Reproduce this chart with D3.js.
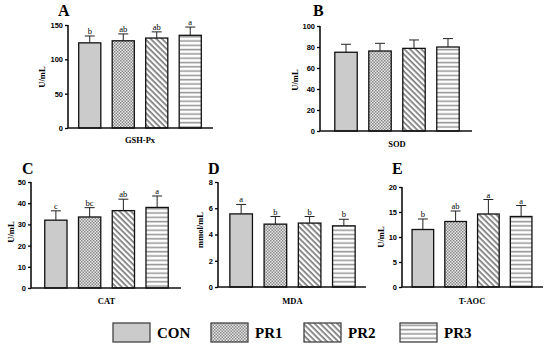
<!DOCTYPE html>
<html>
<head>
<meta charset="utf-8">
<script src="https://cdn.jsdelivr.net/npm/d3@7"></script>
<style>
body { margin: 0; background: #fff; }
svg { display: block; }
.tick text { font-family: "Liberation Sans", Arial, sans-serif; font-weight: bold; font-size: 7.5px; }
</style>
</head>
<body>
<div class="chart"></div>
<script>
var groups = ["CON", "PR1", "PR2", "PR3"];

var gshpx = [124, 127, 131, 135];
var gshpxErr = [10, 10, 9, 12];
var gshpxLetters = ["b", "ab", "ab", "a"];

var sod = [75, 76.2, 78.7, 80];
var sodErr = [7.6, 7.3, 8, 8];

var cat = [32, 33.5, 36.5, 38];
var catErr = [4.4, 4.4, 5.4, 5.4];
var catLetters = ["c", "bc", "ab", "a"];

var mda = [5.57, 4.79, 4.87, 4.66];
var mdaErr = [0.72, 0.58, 0.5, 0.5];
var mdaLetters = ["a", "b", "b", "b"];

var taoc = [11.5, 13.1, 14.6, 14.1];
var taocErr = [2.1, 2.1, 2.9, 2.2];
var taocLetters = ["b", "ab", "a", "a"];

var yTicksA = [0, 50, 100, 150];
var yTicksB = [0, 20, 40, 60, 80, 100];
var yTicksC = [0, 10, 20, 30, 40, 50];
var yTicksD = [0, 2, 4, 6, 8];
var yTicksE = [0, 5, 10, 15, 20];

var serif = '"Liberation Serif", "Times New Roman", serif';

var svg = d3.select(".chart").append("svg")
	.attr("width", 550)
	.attr("height", 348);

// fill patterns
var defs = svg.append("defs");
var p1 = defs.append("pattern").attr("id", "pr1").attr("patternUnits", "userSpaceOnUse")
	.attr("width", 3).attr("height", 3);
p1.append("rect").attr("width", 3).attr("height", 3).attr("fill", "#e6e6e6");
p1.append("rect").attr("width", 1.5).attr("height", 1.5).attr("fill", "#8a8a8a");
p1.append("rect").attr("x", 1.5).attr("y", 1.5).attr("width", 1.5).attr("height", 1.5).attr("fill", "#8a8a8a");

var p2 = defs.append("pattern").attr("id", "pr2").attr("patternUnits", "userSpaceOnUse")
	.attr("width", 4).attr("height", 4).attr("patternTransform", "rotate(45)");
p2.append("rect").attr("width", 4).attr("height", 4).attr("fill", "#fff");
p2.append("rect").attr("width", 4).attr("height", 1.7).attr("fill", "#7a7a7a");

var p3 = defs.append("pattern").attr("id", "pr3").attr("patternUnits", "userSpaceOnUse")
	.attr("width", 4).attr("height", 4.3);
p3.append("rect").attr("width", 4).attr("height", 4.3).attr("fill", "#fff");
p3.append("rect").attr("y", 1.5).attr("width", 4).attr("height", 1.6).attr("fill", "#9a9a9a");

var fills = ["#cbcbcb", "url(#pr1)", "url(#pr2)", "url(#pr3)"];

var panels = [
	{ tag: "A", label: "GSH-Px", ylab: "U/mL", vals: gshpx, err: gshpxErr, letters: gshpxLetters, ticks: yTicksA,
	  ax: 68, band: [72, 208], end: 213, top: 25, bottom: 128, tagXY: [58, 16], ylabXY: [42, 77], xlabY: 143 },
	{ tag: "B", label: "SOD", ylab: "U/mL", vals: sod, err: sodErr, letters: null, ticks: yTicksB,
	  ax: 320, band: [328, 466], end: 472, top: 26, bottom: 131, tagXY: [313, 16], ylabXY: [295, 80], xlabY: 147 },
	{ tag: "C", label: "CAT", ylab: "U/mL", vals: cat, err: catErr, letters: catLetters, ticks: yTicksC,
	  ax: 31, band: [38, 175], end: 181, top: 182, bottom: 288, tagXY: [22, 174], ylabXY: [11, 232], xlabY: 304 },
	{ tag: "D", label: "MDA", ylab: "mmol/mL", vals: mda, err: mdaErr, letters: mdaLetters, ticks: yTicksD,
	  ax: 218, band: [223, 362], end: 366, top: 182, bottom: 287, tagXY: [208, 174], ylabXY: [200, 230], xlabY: 304 },
	{ tag: "E", label: "T-AOC", ylab: "U/mL", vals: taoc, err: taocErr, letters: taocLetters, ticks: yTicksE,
	  ax: 402, band: [405.5, 538.5], end: 543, top: 187, bottom: 287, tagXY: [392, 174], ylabXY: [381, 237], xlabY: 304 }
];

panels.forEach(function(p) {
	var g = svg.append("g");
	var x = d3.scaleBand().domain(groups).range(p.band).paddingInner(0.34).paddingOuter(0.2);
	var y = d3.scaleLinear().domain([p.ticks[0], p.ticks[p.ticks.length - 1]]).range([p.bottom, p.top]);

	// bars
	g.selectAll("rect.bar").data(groups).enter().append("rect")
		.attr("class", "bar")
		.attr("x", d => x(d))
		.attr("width", x.bandwidth())
		.attr("y", (d, i) => y(p.vals[i]))
		.attr("height", (d, i) => y(0) - y(p.vals[i]))
		.attr("fill", (d, i) => fills[i])
		.attr("stroke", "#111")
		.attr("stroke-width", 1.3);

	// error bars
	var eb = g.selectAll("g.err").data(groups).enter().append("g").attr("class", "err");
	eb.append("line")
		.attr("x1", d => x(d) + x.bandwidth() / 2).attr("x2", d => x(d) + x.bandwidth() / 2)
		.attr("y1", (d, i) => y(p.vals[i])).attr("y2", (d, i) => y(p.vals[i] + p.err[i]))
		.attr("stroke", "#222").attr("stroke-width", 1);
	eb.append("line")
		.attr("x1", d => x(d) + x.bandwidth() / 2 - 5).attr("x2", d => x(d) + x.bandwidth() / 2 + 5)
		.attr("y1", (d, i) => y(p.vals[i] + p.err[i])).attr("y2", (d, i) => y(p.vals[i] + p.err[i]))
		.attr("stroke", "#222").attr("stroke-width", 1);

	if (p.letters) {
		g.selectAll("text.sig").data(groups).enter().append("text")
			.attr("class", "sig")
			.attr("x", d => x(d) + x.bandwidth() / 2)
			.attr("y", (d, i) => y(p.vals[i] + p.err[i]) - 2)
			.attr("text-anchor", "middle")
			.style("font-family", serif).style("font-size", "8.5px").attr("fill", "#000")
			.text((d, i) => p.letters[i]);
	}

	// y axis
	var yAxis = d3.axisLeft(y).tickValues(p.ticks).tickSize(3).tickPadding(2).tickFormat(d3.format("d"));
	var ya = g.append("g").attr("transform", "translate(" + p.ax + ",0)").call(yAxis);
	ya.select(".domain").attr("stroke-width", 1.5).attr("d", "M0," + p.top + "V" + p.bottom);
	ya.selectAll(".tick line").attr("stroke-width", 1.3);

	// baseline
	g.append("line")
		.attr("x1", p.ax).attr("x2", p.end)
		.attr("y1", y(0)).attr("y2", y(0))
		.attr("stroke", "#111").attr("stroke-width", 1.5);

	g.append("text")
		.attr("x", p.tagXY[0]).attr("y", p.tagXY[1])
		.style("font-family", serif).style("font-weight", "bold").style("font-size", "16px")
		.text(p.tag);

	g.append("text")
		.attr("transform", "translate(" + p.ylabXY[0] + "," + p.ylabXY[1] + ") rotate(-90)")
		.attr("text-anchor", "middle").attr("dy", "0.35em")
		.style("font-family", serif).style("font-weight", "bold").style("font-size", "8.5px")
		.text(p.ylab);

	g.append("text")
		.attr("x", (p.band[0] + p.band[1]) / 2).attr("y", p.xlabY)
		.attr("text-anchor", "middle")
		.style("font-family", serif).style("font-weight", "bold").style("font-size", "8.5px")
		.text(p.label);
});

// legend
var legX = d3.scaleOrdinal().domain(groups).range([113, 211, 304, 400]);
var leg = svg.selectAll("g.leg").data(groups).enter().append("g")
	.attr("class", "leg")
	.attr("transform", d => "translate(" + legX(d) + ",323)");
leg.append("rect")
	.attr("width", 37).attr("height", 19)
	.attr("fill", (d, i) => fills[i])
	.attr("stroke", "#444").attr("stroke-width", 1.3);
leg.append("text")
	.attr("x", 44).attr("y", 15)
	.style("font-family", serif).style("font-weight", "bold").style("font-size", "15px")
	.text(d => d);
</script>
</body>
</html>
